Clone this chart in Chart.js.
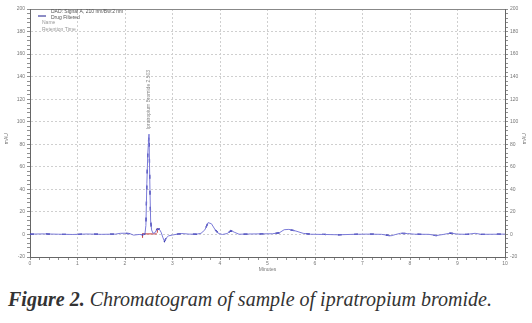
<!DOCTYPE html>
<html>
<head>
<meta charset="utf-8">
<script src="https://cdn.jsdelivr.net/npm/chart.js@4/dist/chart.umd.min.js"></script>
<style>
  body { margin: 0; background: #fff; }
  #wrap { width: 532px; height: 278px; }
  #caption {
    font-family: "Liberation Serif", "Times New Roman", serif;
    font-style: italic; font-size: 20px; color: #333;
    margin: 10px 0 0 8px; white-space: nowrap;
  }
  #caption b { font-weight: bold; }
</style>
</head>
<body>
<div id="wrap"><canvas id="myChart" width="532" height="278"></canvas></div>
<div id="caption"><b>Figure 2.</b> Chromatogram of sample of ipratropium bromide.</div>
<script>
// retention time (min) and absorbance (mAU)
const minutes = [0, 0.3, 0.6, 0.9, 1.2, 1.5, 1.8, 1.9, 2.0, 2.1, 2.18, 2.3, 2.37, 2.42, 2.44, 2.46, 2.48, 2.505,
  2.525, 2.54, 2.56, 2.59, 2.63, 2.67, 2.72, 2.76, 2.8, 2.83, 2.87, 2.92, 3.0, 3.1, 3.2, 3.35, 3.5, 3.6, 3.68,
  3.75, 3.82, 3.9, 3.97, 4.05, 4.15, 4.23, 4.3, 4.4, 4.6, 4.8, 5.1, 5.25, 5.35, 5.45, 5.6, 5.75, 5.9, 6.2, 6.5,
  6.8, 7.1, 7.4, 7.6, 7.7, 7.8, 7.95, 8.1, 8.4, 8.55, 8.7, 8.85, 9.0, 9.2, 9.37, 9.5, 9.8, 10.0];
const mAU = [0.3, 0.5, 0.2, 0, 0.4, 0.1, 0.3, 1.0, 1.1, 0.8, -0.6, 0, -0.3, 0.5, 8, 45, 72, 89,
  40, 12, 4, 1, 1.5, 4.5, 4.8, 2, -3, -6, -3, -1.2, -0.5, 0.3, 0.8, 0.3, 0.2, 1, 4,
  10.5, 9.5, 4, 0.8, 0, 0.8, 3.5, 2, 0.2, 0.4, 0.5, 0.6, 1.5, 4.2, 4.5, 3, 1, 0.2, 0, -0.3,
  0.1, 0.3, 0.1, -1.2, 0, 1, 0.8, 0.2, 0.1, -1, 0, 1.2, 0.3, 0.1, 1, 0.1, 0.2, 0.3];
// integration baseline with its start / end marks
const baseT = [2.37, 2.37, null, 2.37, 2.67, null, 2.68, 2.68];
const baseY = [-3, 1, null, 0.5, 0.5, null, 1.5, 5.5];
const peakName = 'Ipratropium Bromide 2.503';
const peakTime = 2.505;
const legendLines = ['DAD: Signal A, 210 nm/Bw:2 nm', 'Drug Filtered'];
const legendExtra = ['Name', 'Retention Time'];
const yTitle = 'mAU';
const xTitle = 'Minutes';

const trace = minutes.map((t, i) => ({x: t, y: mAU[i]}));
const base = baseT.map((t, i) => ({x: t, y: baseY[i]}));

const isMult = (v, m) => Math.abs(v / m - Math.round(v / m)) < 1e-6;
const tickFont = {family: 'Liberation Sans', size: 5};

const annot = {
  id: 'annot',
  afterDatasetsDraw(chart) {
    const {ctx, chartArea, scales} = chart;
    ctx.save();
    // legend box
    const lx = chartArea.left + 8, ly = chartArea.top + 6;
    ctx.strokeStyle = '#1a1a8c'; ctx.lineWidth = 1;
    ctx.beginPath(); ctx.moveTo(lx, ly + 1); ctx.lineTo(lx + 8, ly + 1); ctx.stroke();
    ctx.font = '5px "Liberation Sans"'; ctx.textBaseline = 'middle';
    ctx.fillStyle = '#555';
    legendLines.forEach((s, i) => ctx.fillText(s, lx + 13, ly - 3 + i * 5.5));
    ctx.fillStyle = '#999';
    legendExtra.forEach((s, i) => ctx.fillText(s, lx + 4, ly + 8 + i * 7));
    // y titles, both sides
    const midY = scales.y.getPixelForValue(85);
    ctx.fillStyle = '#777'; ctx.textAlign = 'center';
    [7, chart.width - 7].forEach(tx => {
      ctx.save(); ctx.translate(tx, midY); ctx.rotate(-Math.PI / 2);
      ctx.fillText(yTitle, 0, 0); ctx.restore();
    });
    // peak label
    const idx = minutes.indexOf(peakTime);
    const px = scales.x.getPixelForValue(peakTime);
    const py = scales.y.getPixelForValue(mAU[idx]);
    ctx.translate(px, py - 5);
    ctx.rotate(-Math.PI / 2);
    ctx.fillStyle = '#888'; ctx.textAlign = 'left';
    ctx.fillText(peakName, 0, 0);
    ctx.restore();
  }
};

const yAxis = (pos, onArea) => ({
  type: 'linear', position: pos, min: -20, max: 200,
  ticks: {stepSize: 4, autoSkip: false, padding: 2, color: '#777', font: tickFont,
    callback: v => isMult(v, 20) ? v : ''},
  grid: {drawOnChartArea: onArea, tickLength: 3, tickColor: '#444', tickWidth: 0.6,
    color: c => isMult(c.tick.value, 20) ? '#cfcfcf' : 'rgba(0,0,0,0)'},
  border: {color: '#666', width: 1, dash: [2, 2]},
  afterFit: s => { s.width = pos === 'left' ? 30 : 27; }
});

new Chart(document.getElementById('myChart'), {
  type: 'line',
  data: {
    datasets: [
      {data: trace, borderColor: '#7a7ad8', borderWidth: 1, pointRadius: 0, tension: 0},
      {data: trace, borderColor: '#0a0a96', borderWidth: 1.3, borderDash: [4, 12], pointRadius: 0, tension: 0},
      {data: base, borderColor: '#c83c3c', borderWidth: 1, pointRadius: 0, spanGaps: false}
    ]
  },
  options: {
    responsive: false, animation: false,
    layout: {padding: {top: 9, left: 0, right: 0, bottom: 0}},
    plugins: {legend: {display: false}, tooltip: {enabled: false}},
    scales: {
      x: {
        type: 'linear', min: 0, max: 10,
        ticks: {stepSize: 0.2, autoSkip: false, maxRotation: 0, padding: 1, color: '#777', font: tickFont,
          callback: v => isMult(v, 1) ? Math.round(v) : ''},
        grid: {tickLength: 3, tickColor: '#444', tickWidth: 0.6,
          color: c => isMult(c.tick.value, 1) ? '#cfcfcf' : 'rgba(0,0,0,0)'},
        border: {color: '#666', width: 1, dash: [2, 2]},
        title: {display: true, text: xTitle, color: '#777', font: tickFont, padding: {top: 0, bottom: 5}},
        afterFit: s => { s.height = 21; }
      },
      xTop: {
        type: 'linear', position: 'top', min: 0, max: 10,
        ticks: {display: false}, grid: {display: false, drawTicks: false},
        border: {color: '#888', width: 1},
        afterFit: s => { s.height = 0; }
      },
      y: yAxis('left', true),
      y2: yAxis('right', false)
    }
  },
  plugins: [annot]
});
</script>
</body>
</html>
